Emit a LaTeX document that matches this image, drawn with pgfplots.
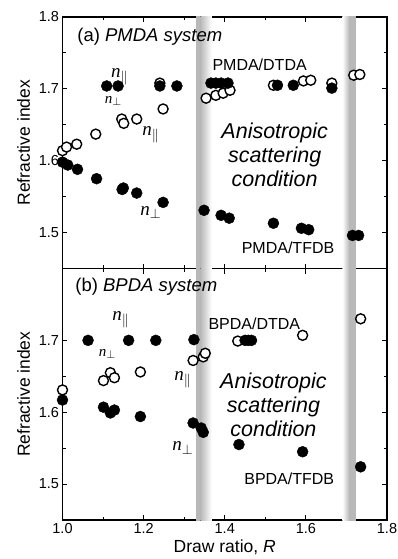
\documentclass[border=0pt]{standalone}
\usepackage{pgfplots}
\pgfplotsset{compat=1.18}
\usepackage{fontspec}
\setmainfont{Liberation Sans}
\newfontfamily\serif{Liberation Serif}
\newcommand{\npar}{{\serif\itshape n}\raisebox{-0.35ex}{\scalebox{0.8}{$\parallel$}}}
\newcommand{\nperp}{{\serif\itshape n}\raisebox{-0.35ex}{\scalebox{0.8}{$\perp$}}}
\pgfplotsset{
  panel/.style={
    width=324.5pt, height=251.5pt, scale only axis,
    xmin=1, xmax=1.8, ymin=1.45, ymax=1.8,
    xtick={1.0,1.2,1.4,1.6,1.8}, minor xtick={1.1,1.3,1.5,1.7},
    minor y tick num=1,
    axis line style={line width=1.3pt},
    major tick style={line width=1pt, black},
    minor tick style={line width=1pt, black},
    major tick length=5pt, minor tick length=3.5pt,
    tick align=inside,
    /pgf/number format/assume math mode=true,
    /pgf/number format/fixed, /pgf/number format/fixed zerofill,
    /pgf/number format/precision=1,
    tick label style={font=\fontsize{14.5}{14.5}\selectfont},
    label style={font=\fontsize{17.5}{17.5}\selectfont},
    ylabel={Refractive index},
    ylabel style={at={(axis description cs:-0.12,0.5)}, anchor=center},
    clip=true,
  },
  filled/.style={only marks, mark=*, mark size=5.5pt, mark options={fill=black, draw=black}},
  open/.style={only marks, mark=*, mark size=5pt, mark options={fill=white, draw=black, line width=1.4pt}},
}
\newcommand{\drawbands}{%
  \fill[gray!55] (axis cs:1.329,1.40) rectangle (axis cs:1.340,1.85);
  \fill[left color=gray!55, right color=white] (axis cs:1.340,1.40) rectangle (axis cs:1.368,1.85);
  \fill[left color=white, right color=gray!55] (axis cs:1.690,1.40) rectangle (axis cs:1.707,1.85);
  \fill[gray!55] (axis cs:1.707,1.40) rectangle (axis cs:1.724,1.85);
}
\begin{document}
\begin{tikzpicture}
\begin{axis}[panel, name=top, at={(0,0)}, anchor=south west,
  ytick={1.5,1.6,1.7,1.8}, xticklabels={}]
\drawbands
\addplot[open] coordinates {
(1.000,1.614) (1.010,1.619) (1.035,1.623) (1.082,1.637) (1.146,1.658)
(1.151,1.652) (1.183,1.658) (1.248,1.672) (1.240,1.708) (1.354,1.687)
(1.378,1.691) (1.396,1.694) (1.413,1.698) (1.520,1.705) (1.594,1.711)
(1.612,1.712) (1.664,1.708) (1.718,1.719) (1.733,1.720)};
\addplot[filled] coordinates {
(1.000,1.598) (1.013,1.594) (1.037,1.588) (1.084,1.575) (1.147,1.560)
(1.150,1.562) (1.183,1.555) (1.248,1.542) (1.109,1.704) (1.137,1.704)
(1.240,1.704) (1.282,1.704) (1.366,1.708) (1.378,1.708) (1.391,1.708)
(1.408,1.708) (1.530,1.705) (1.569,1.705) (1.664,1.701) (1.349,1.531)
(1.391,1.524) (1.411,1.520) (1.520,1.513) (1.589,1.506) (1.607,1.504)
(1.715,1.496) (1.730,1.496)};
\node[anchor=west, font=\fontsize{18.5}{18.5}\selectfont] at (axis cs:1.028,1.772) {(a) \textit{PMDA system}};
\node[font=\fontsize{19}{19}\selectfont] at (axis cs:1.140,1.717) {\npar};
\node[font=\fontsize{15}{15}\selectfont] at (axis cs:1.125,1.683) {\nperp};
\node[font=\fontsize{19}{19}\selectfont] at (axis cs:1.217,1.636) {\npar};
\node[font=\fontsize{19}{19}\selectfont] at (axis cs:1.217,1.528) {\nperp};
\node[font=\fontsize{16}{16}\selectfont] at (axis cs:1.486,1.733) {PMDA/DTDA};
\node[font=\fontsize{16}{16}\selectfont] at (axis cs:1.556,1.479) {PMDA/TFDB};
\node[font=\fontsize{21.5}{24}\selectfont\itshape, align=center] at (axis cs:1.523,1.608) {Anisotropic\\scattering\\condition};
\end{axis}
\begin{axis}[panel, name=bot, at={(top.south west)}, anchor=north west,
  ytick={1.5,1.6,1.7}, xlabel={Draw ratio, \textit{R}},
  xlabel style={at={(axis description cs:0.5,-0.107)}, anchor=center}]
\drawbands
\addplot[open] coordinates {
(1.000,1.631) (1.101,1.644) (1.118,1.655) (1.128,1.648) (1.192,1.656)
(1.322,1.672) (1.347,1.677) (1.352,1.682) (1.432,1.699) (1.592,1.707)
(1.735,1.730)};
\addplot[filled] coordinates {
(1.000,1.617) (1.063,1.700) (1.163,1.700) (1.230,1.700) (1.324,1.701)
(1.450,1.700) (1.458,1.700) (1.466,1.700) (1.101,1.607) (1.118,1.599)
(1.128,1.603) (1.192,1.594) (1.322,1.585) (1.342,1.578) (1.347,1.572)
(1.435,1.555) (1.592,1.545) (1.735,1.524)};
\node[anchor=west, font=\fontsize{18.5}{18.5}\selectfont] at (axis cs:1.023,1.775) {(b) \textit{BPDA system}};
\node[font=\fontsize{19}{19}\selectfont] at (axis cs:1.143,1.729) {\npar};
\node[font=\fontsize{15}{15}\selectfont] at (axis cs:1.110,1.681) {\nperp};
\node[font=\fontsize{19}{19}\selectfont] at (axis cs:1.296,1.645) {\npar};
\node[font=\fontsize{19}{19}\selectfont] at (axis cs:1.296,1.550) {\nperp};
\node[font=\fontsize{16}{16}\selectfont] at (axis cs:1.473,1.723) {BPDA/DTDA};
\node[font=\fontsize{16}{16}\selectfont] at (axis cs:1.559,1.508) {BPDA/TFDB};
\node[font=\fontsize{21.5}{24}\selectfont\itshape, align=center] at (axis cs:1.520,1.610) {Anisotropic\\scattering\\condition};
\end{axis}
\pgfresetboundingbox
\path[use as bounding box] ([xshift=-62.5pt,yshift=17pt]top.north west) rectangle ([xshift=11pt,yshift=-39pt]bot.south east);
\end{tikzpicture}
\end{document}
